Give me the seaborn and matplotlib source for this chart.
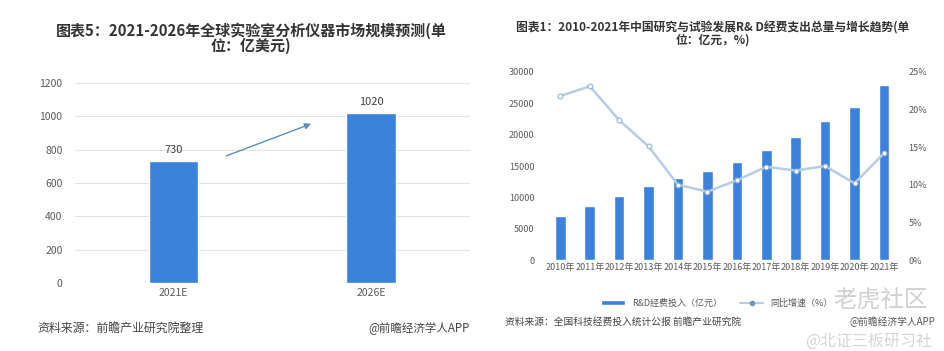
import matplotlib.pyplot as plt
import pandas as pd
import seaborn as sns
from matplotlib.lines import Line2D
from matplotlib.patches import Patch

# left chart
market_years = ["2021E", "2026E"]
market_size = [730, 1020]

# right chart
rd_years = ["2010年", "2011年", "2012年", "2013年", "2014年", "2015年",
            "2016年", "2017年", "2018年", "2019年", "2020年", "2021年"]
rd_spend = [7063, 8687, 10298, 11847, 13016, 14170, 15677, 17606, 19678, 22144, 24393, 27864]
rd_growth = [21.8, 23.1, 18.6, 15.1, 10.0, 9.1, 10.6, 12.4, 11.9, 12.5, 10.2, 14.2]


def main():
    sns.set_theme(style="white")
    plt.rcParams["font.family"] = ["Noto Sans CJK SC", "DejaVu Sans"]

    fig = plt.figure(figsize=(9.44, 3.51), dpi=100)
    fig.patch.set_facecolor("white")
    tick_color = "#595959"
    bar_blue = "#3b82dc"

    # ---- left: market size ----
    ax1 = fig.add_axes([0.0794, 0.194, 0.418, 0.570])
    df1 = pd.DataFrame({"year": market_years, "size": market_size})
    sns.barplot(data=df1, x="year", y="size", ax=ax1, color=bar_blue,
                width=0.25, saturation=1)
    ax1.set_ylim(0, 1200)
    ax1.set_yticks(range(0, 1201, 200))
    ax1.yaxis.grid(True, color="#e3e3e3", linewidth=0.8)
    ax1.set_axisbelow(True)
    for s in ax1.spines.values():
        s.set_visible(False)
    ax1.set_xlabel("")
    ax1.set_ylabel("")
    ax1.tick_params(axis="both", labelsize=7.5, colors=tick_color, length=0)
    ax1.tick_params(axis="y", pad=9)
    for p, v in zip(ax1.patches, market_size):
        ax1.text(p.get_x() + p.get_width() / 2, v + 35, str(v), ha="center",
                 va="bottom", fontsize=8, color="#404040")
    ax1.annotate("", xy=(0.605, 0.80), xytext=(0.377, 0.63),
                 xycoords="axes fraction", textcoords="axes fraction",
                 arrowprops=dict(arrowstyle="-|>", color="#5a8fbf", lw=1.0,
                                 mutation_scale=9))

    fig.text(251 / 944, 1 - 31 / 351, "图表5：2021-2026年全球实验室分析仪器市场规模预测(单",
             ha="center", va="center", fontsize=10.8, fontweight="bold", color="#333333")
    fig.text(251 / 944, 1 - 46 / 351, "位：亿美元)",
             ha="center", va="center", fontsize=10.8, fontweight="bold", color="#333333")
    fig.text(37 / 944, 1 - 328 / 351, "资料来源：前瞻产业研究院整理",
             ha="left", va="center", fontsize=8.6, color="#444444")
    fig.text(470 / 944, 1 - 328 / 351, "@前瞻经济学人APP",
             ha="right", va="center", fontsize=8.3, color="#444444")

    # ---- right: R&D spending ----
    ax2 = fig.add_axes([0.578, 0.259, 0.374, 0.536])
    df2 = pd.DataFrame({"year": rd_years, "spend": rd_spend, "growth": rd_growth})
    sns.barplot(data=df2, x="year", y="spend", ax=ax2, color=bar_blue,
                width=0.36, saturation=1)
    ax2.set_ylim(0, 30000)
    ax2.set_yticks(range(0, 30001, 5000))
    ax2.set_xlim(-0.5, len(rd_years) - 0.5)
    for s in ax2.spines.values():
        s.set_visible(False)
    ax2.set_xlabel("")
    ax2.set_ylabel("")
    ax2.tick_params(axis="both", labelsize=6.5, colors=tick_color, length=0)
    ax2.tick_params(axis="y", pad=8)
    ax2.tick_params(axis="x", pad=2)

    ax3 = ax2.twinx()
    sns.lineplot(x=list(range(len(rd_years))), y=rd_growth, ax=ax3,
                 color="#b7cde3", linewidth=1.8, marker="o", markersize=3.5,
                 markerfacecolor="white", markeredgecolor="#8fb0d3")
    ax3.set_ylim(0, 25)
    ax3.set_yticks(range(0, 26, 5))
    ax3.set_yticklabels([f"{t}%" for t in range(0, 26, 5)])
    for s in ax3.spines.values():
        s.set_visible(False)
    ax3.set_ylabel("")
    ax3.tick_params(axis="y", labelsize=6.5, colors=tick_color, length=0, pad=7)

    handles = [Patch(facecolor=bar_blue, label="R&D经费投入（亿元）"),
               Line2D([0], [0], color="#b7cde3", lw=1.5, marker="o", markersize=3,
                      markerfacecolor="#6f94bd", markeredgecolor="#6f94bd",
                      label="同比增速（%）")]
    fig.legend(handles=handles, loc="center", bbox_to_anchor=(717 / 944, 1 - 303 / 351),
               ncol=2, frameon=False, fontsize=6.5, handlelength=2.6, handleheight=0.6,
               columnspacing=2.0, labelcolor="#595959")

    fig.text(713 / 944, 1 - 28 / 351, "图表1：2010-2021年中国研究与试验发展R& D经费支出总量与增长趋势(单",
             ha="center", va="center", fontsize=8.5, fontweight="bold", color="#333333")
    fig.text(713 / 944, 1 - 40 / 351, "位：亿元，%)",
             ha="center", va="center", fontsize=8.5, fontweight="bold", color="#333333")
    fig.text(505 / 944, 1 - 322 / 351, "资料来源：全国科技经费投入统计公报 前瞻产业研究院",
             ha="left", va="center", fontsize=7, color="#444444")
    fig.text(935 / 944, 1 - 322 / 351, "@前瞻经济学人APP",
             ha="right", va="center", fontsize=7, color="#555555")

    # faint overlay watermark text
    fig.text(928 / 944, 1 - 301 / 351, "老虎社区", ha="right", va="center",
             fontsize=17, color="#d0d0d0")
    fig.text(932 / 944, 1 - 341 / 351, "@北证三板研习社", ha="right", va="center",
             fontsize=11.5, color="#d6d6d6")

    fig.savefig("out.png", dpi=100, facecolor="white")
    plt.close(fig)


if __name__ == "__main__":
    main()
